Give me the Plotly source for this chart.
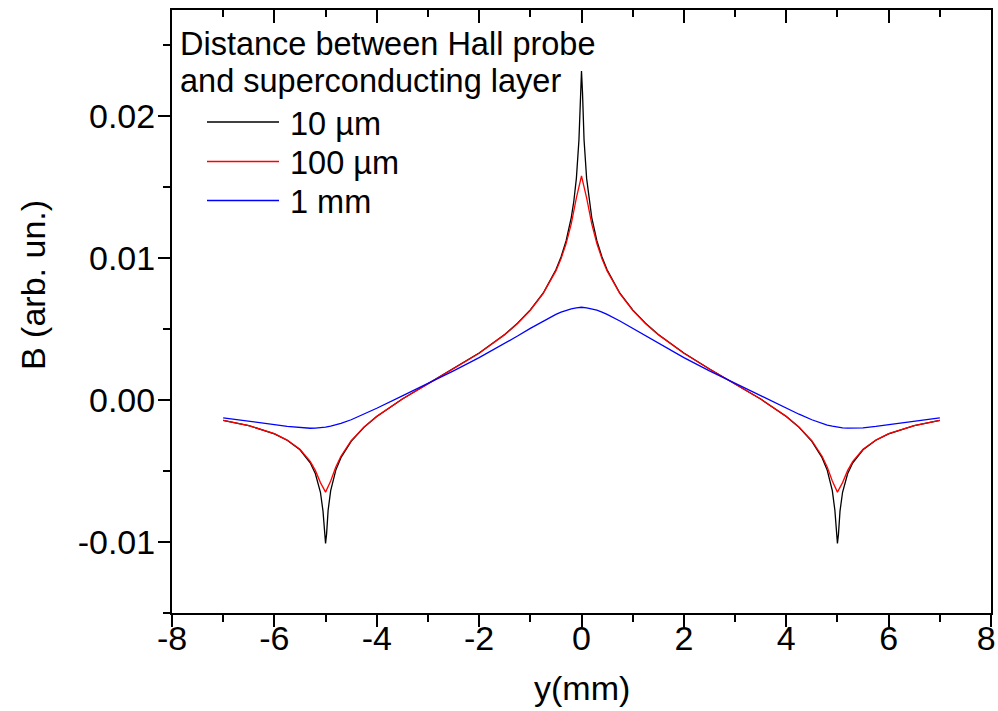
import plotly.graph_objects as go

# ---------------- data ----------------
# position y (mm) for the 10 um curve (finer sampling near the singular points)
y_mm_fine = [-7.0, -6.5, -6.0, -5.75, -5.5, -5.3, -5.2, -5.1, -5.05, -5.02, -5.0,
             -4.98, -4.95, -4.9, -4.8, -4.7, -4.5, -4.25, -4.0, -3.5, -3.0, -2.5,
             -2.0, -1.5, -1.25, -1.0, -0.75, -0.5, -0.4, -0.3, -0.2, -0.15, -0.1,
             -0.05, -0.02, 0.0, 0.02, 0.05, 0.1, 0.15, 0.2, 0.3, 0.4, 0.5, 0.75,
             1.0, 1.25, 1.5, 2.0, 2.5, 3.0, 3.5, 4.0, 4.25, 4.5, 4.7, 4.8, 4.9,
             4.95, 4.98, 5.0, 5.02, 5.05, 5.1, 5.2, 5.3, 5.5, 5.75, 6.0, 6.5, 7.0]

b_10um = [-0.00143, -0.00179, -0.00237, -0.00282, -0.00350, -0.00441, -0.00517,
          -0.00649, -0.00782, -0.00945, -0.0101, -0.00942, -0.00776, -0.00637,
          -0.00493, -0.00405, -0.00290, -0.00191, -0.00115, 0.00008, 0.00115,
          0.00220, 0.00332, 0.00463, 0.00542, 0.00636, 0.00754, 0.00919, 0.01009,
          0.01124, 0.01287, 0.01402, 0.01563, 0.01834, 0.02164, 0.0232, 0.02164,
          0.01834, 0.01563, 0.01402, 0.01287, 0.01124, 0.01009, 0.00919, 0.00754,
          0.00636, 0.00542, 0.00463, 0.00332, 0.00220, 0.00115, 0.00008, -0.00115,
          -0.00191, -0.00290, -0.00405, -0.00493, -0.00637, -0.00776, -0.00942,
          -0.0101, -0.00945, -0.00782, -0.00649, -0.00517, -0.00441, -0.00350,
          -0.00282, -0.00237, -0.00179, -0.00143]

# position y (mm) for the 100 um and 1 mm curves
y_mm_coarse = [-7.0, -6.5, -6.0, -5.75, -5.5, -5.3, -5.2, -5.1, -5.0, -4.9, -4.8,
               -4.7, -4.5, -4.25, -4.0, -3.5, -3.0, -2.5, -2.0, -1.5, -1.25, -1.0,
               -0.75, -0.5, -0.4, -0.3, -0.2, -0.1, 0.0, 0.1, 0.2, 0.3, 0.4, 0.5,
               0.75, 1.0, 1.25, 1.5, 2.0, 2.5, 3.0, 3.5, 4.0, 4.25, 4.5, 4.7, 4.8,
               4.9, 5.0, 5.1, 5.2, 5.3, 5.5, 5.75, 6.0, 6.5, 7.0]

b_100um = [-0.00143, -0.00179, -0.00236, -0.00281, -0.00346, -0.00431, -0.00495,
           -0.00581, -0.00648, -0.00569, -0.00471, -0.00395, -0.00286, -0.00190,
           -0.00114, 0.00008, 0.00115, 0.00220, 0.00331, 0.00462, 0.00540, 0.00634,
           0.00751, 0.00911, 0.00997, 0.01104, 0.01243, 0.01426, 0.0158, 0.01426,
           0.01243, 0.01104, 0.00997, 0.00911, 0.00751, 0.00634, 0.00540, 0.00462,
           0.00331, 0.00220, 0.00115, 0.00008, -0.00114, -0.00190, -0.00286,
           -0.00395, -0.00471, -0.00569, -0.00648, -0.00581, -0.00495, -0.00431,
           -0.00346, -0.00281, -0.00236, -0.00179, -0.00143]

b_1mm = [-0.00124, -0.00146, -0.00172, -0.00185, -0.00195, -0.00198, -0.00197,
         -0.00195, -0.00190, -0.00183, -0.00175, -0.00164, -0.00138, -0.00099,
         -0.00057, 0.00030, 0.00118, 0.00207, 0.00300, 0.00399, 0.00452, 0.00506,
         0.00558, 0.00605, 0.00621, 0.00634, 0.00644, 0.00650, 0.00655, 0.00650,
         0.00644, 0.00634, 0.00621, 0.00605, 0.00558, 0.00506, 0.00452, 0.00399,
         0.00300, 0.00207, 0.00118, 0.00030, -0.00057, -0.00099, -0.00138,
         -0.00164, -0.00175, -0.00183, -0.00190, -0.00195, -0.00197, -0.00198,
         -0.00195, -0.00185, -0.00172, -0.00146, -0.00124]

series_names = ["10 µm", "100 µm", "1 mm"]
legend_title = ["Distance between Hall probe", "and superconducting layer"]
x_tickvals = [-8, -6, -4, -2, 0, 2, 4, 6, 8]
# the last label carries a no-break space so that it stays inside the page
x_ticktext = ["-8", "-6", "-4", "-2", "0", "2", "4", "6", "8\u00a0"]
y_tickvals = [-0.01, 0.0, 0.01, 0.02]
y_ticktext = ["-0.01", "0.00", "0.01", "0.02"]
x_title = "y(mm)"
y_title = "B (arb. un.)"

# ---------------- styling / layout ----------------
W, H = 998, 711
ML, MR, MT, MB = 172, 7, 10, 98
PW, PH = W - ML - MR, H - MT - MB
FONT = "Liberation Sans, Arial, sans-serif"
FS_TICK = 34
FS_TITLE = 34
FS_LEG = 32.5
colors = ["#000000", "#ff0000", "#0000ff"]


def px(xp):
    return (xp - ML) / PW


def py(yp):
    return (H - MB - yp) / PH


fig = go.Figure()
xs = [y_mm_fine, y_mm_coarse, y_mm_coarse]
ys = [b_10um, b_100um, b_1mm]
for xv, yv, name, col in zip(xs, ys, series_names, colors):
    fig.add_trace(go.Scatter(x=xv, y=yv, name=name, mode="lines",
                             line=dict(color=col, width=1.3), showlegend=False))
# invisible trace to bind the top (mirror) axis
fig.add_trace(go.Scatter(x=y_mm_fine, y=b_10um, xaxis="x2", mode="lines",
                         line=dict(width=0), opacity=0, hoverinfo="skip",
                         showlegend=False))

axis_common = dict(showgrid=False, zeroline=False, linecolor="black", linewidth=2,
                   tickcolor="black", tickwidth=2, ticklabeloverflow="allow",
                   tickfont=dict(family=FONT, size=FS_TICK, color="black"))

fig.update_layout(
    width=W, height=H,
    margin=dict(l=ML, r=MR, t=MT, b=MB, pad=0),
    paper_bgcolor="white", plot_bgcolor="white",
    font=dict(family=FONT, size=FS_TICK, color="black"),
    showlegend=False,
    xaxis=dict(range=[-8, 8], tickmode="array", tickvals=x_tickvals,
               ticktext=x_ticktext, ticks="outside", ticklen=12, mirror=True,
               showline=True, ticklabelstandoff=-18, automargin=False,
               minor=dict(tickmode="linear", tick0=-8, dtick=1, ticks="outside",
                          ticklen=7, tickwidth=2, tickcolor="black"),
               **axis_common),
    xaxis2=dict(range=[-8, 8], overlaying="x", side="top", tickmode="array",
                tickvals=x_tickvals, ticks="inside", ticklen=13,
                showticklabels=False, showline=False, showgrid=False,
                zeroline=False, tickcolor="black", tickwidth=2,
                minor=dict(tickmode="linear", tick0=-8, dtick=1, ticks="inside",
                           ticklen=7, tickwidth=2, tickcolor="black")),
    yaxis=dict(range=[-0.015, 0.0275], tickmode="array", tickvals=y_tickvals,
               ticktext=y_ticktext, ticks="outside", ticklen=12, mirror=True,
               showline=True, ticklabelstandoff=-4, automargin=False,
               minor=dict(tickmode="linear", tick0=-0.015, dtick=0.005,
                          ticks="outside", ticklen=7, tickwidth=2,
                          tickcolor="black"),
               **axis_common),
)

ann = []
# axis titles
ann.append(dict(x=px(581.5), y=py(688), xref="paper", yref="paper", text=x_title,
                showarrow=False, xanchor="center", yanchor="middle",
                font=dict(family=FONT, size=FS_TITLE, color="black")))
ann.append(dict(x=px(33), y=py(285), xref="paper", yref="paper", text=y_title,
                showarrow=False, xanchor="center", yanchor="middle", textangle=-90,
                font=dict(family=FONT, size=FS_TITLE, color="black")))
# legend title
for txt, yp in zip(legend_title, [44, 81]):
    ann.append(dict(x=px(178), y=py(yp), xref="paper", yref="paper", text=txt,
                    showarrow=False, xanchor="left", yanchor="middle",
                    font=dict(family=FONT, size=FS_LEG, color="black")))
# legend entries
shapes = []
for name, col, yl, yt in zip(series_names, colors, [122, 161.5, 200.5],
                             [124, 163, 202]):
    shapes.append(dict(type="line", xref="paper", yref="paper",
                       x0=px(207), x1=px(279), y0=py(yl), y1=py(yl),
                       line=dict(color=col, width=1.3)))
    ann.append(dict(x=px(288), y=py(yt), xref="paper", yref="paper", text=name,
                    showarrow=False, xanchor="left", yanchor="middle",
                    font=dict(family=FONT, size=FS_LEG, color="black")))

fig.update_layout(annotations=ann, shapes=shapes)
fig.write_html("out.html")
